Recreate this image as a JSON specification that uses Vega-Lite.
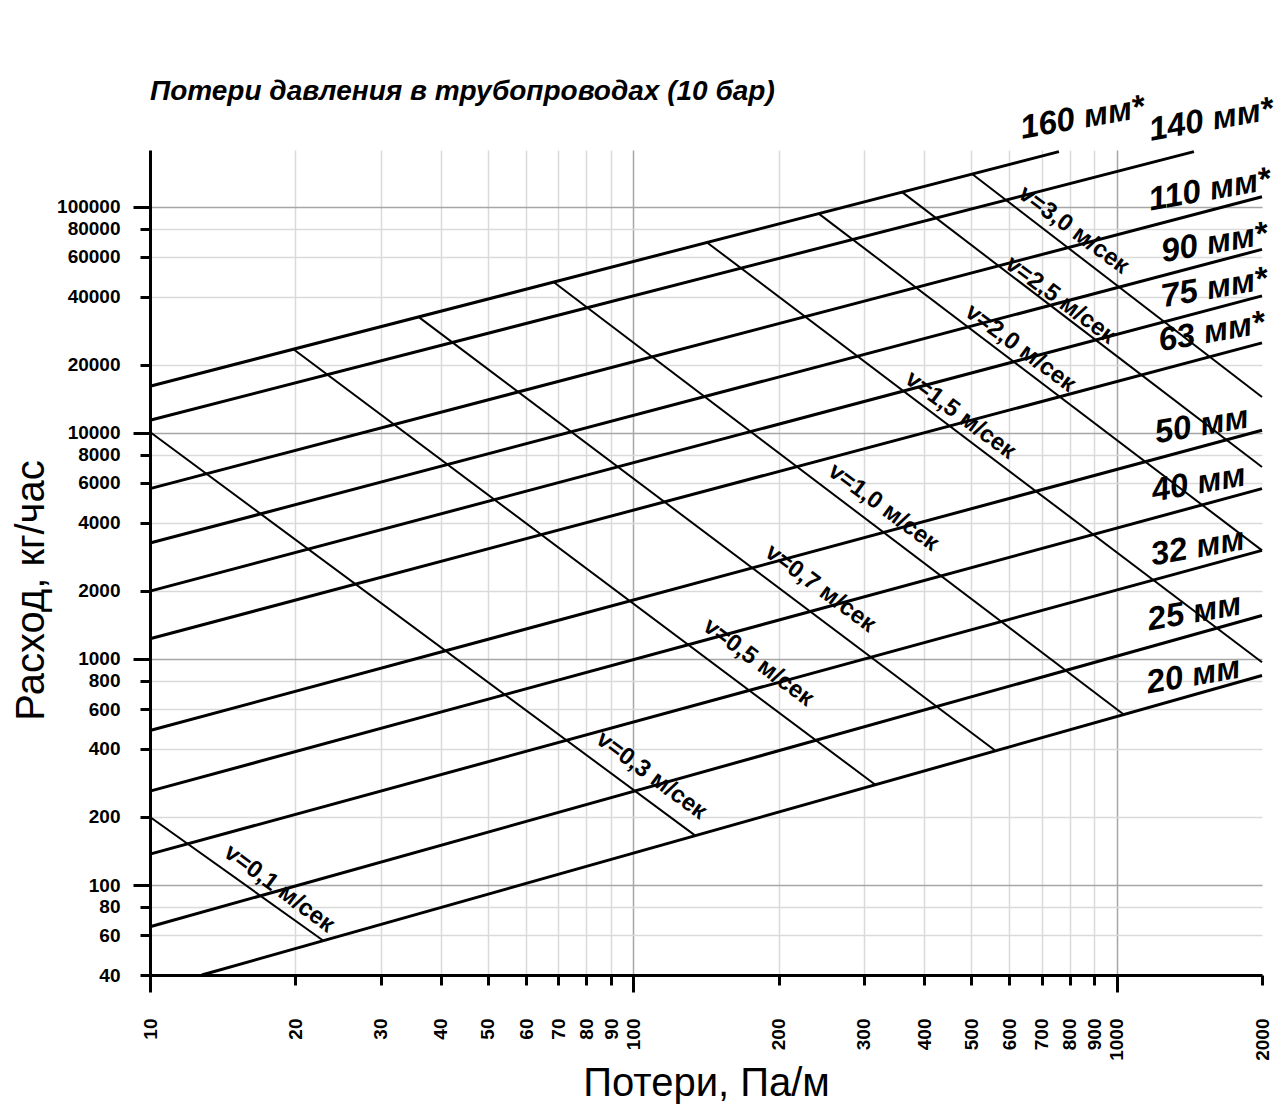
{
  "$schema": "https://vega.github.io/schema/vega-lite/v6.json",
  "width": 1112,
  "height": 825,
  "autosize": {"type": "none"},
  "padding": {"left": 150, "top": 150, "right": 15, "bottom": 129},
  "background": "white",
  "config": {"view": {"stroke": null}, "font": "Liberation Sans"},
  "title": {
    "text": "Потери давления в трубопроводах (10 бар)",
    "anchor": "start",
    "frame": "group",
    "font": "Liberation Sans",
    "fontSize": 28,
    "fontStyle": "italic",
    "fontWeight": "bold",
    "color": "black",
    "baseline": "alphabetic",
    "offset": 0,
    "dy": 37
  },
  "datasets": {
    "pipes": [
      {"pipe": "160", "loss": 10, "flow": 16060}, {"pipe": "160", "loss": 760, "flow": 175000},
      {"pipe": "140", "loss": 10, "flow": 11360}, {"pipe": "140", "loss": 1446, "flow": 175000},
      {"pipe": "110", "loss": 10, "flow": 5662}, {"pipe": "110", "loss": 2000, "flow": 110600},
      {"pipe": "90", "loss": 10, "flow": 3252}, {"pipe": "90", "loss": 2000, "flow": 64710},
      {"pipe": "75", "loss": 10, "flow": 1994}, {"pipe": "75", "loss": 2000, "flow": 40320},
      {"pipe": "63", "loss": 10, "flow": 1227}, {"pipe": "63", "loss": 2000, "flow": 24970},
      {"pipe": "50", "loss": 10, "flow": 482}, {"pipe": "50", "loss": 2000, "flow": 10260},
      {"pipe": "40", "loss": 10, "flow": 260}, {"pipe": "40", "loss": 2000, "flow": 5662},
      {"pipe": "32", "loss": 10, "flow": 137}, {"pipe": "32", "loss": 2000, "flow": 3019},
      {"pipe": "25", "loss": 10, "flow": 65.4}, {"pipe": "25", "loss": 2000, "flow": 1556},
      {"pipe": "20", "loss": 12.8, "flow": 40}, {"pipe": "20", "loss": 2000, "flow": 844}
    ],
    "velocity": [
      {"v": "0.1", "loss": 10, "flow": 200}, {"v": "0.1", "loss": 22.85, "flow": 56.7},
      {"v": "0.3", "loss": 10, "flow": 10080}, {"v": "0.3", "loss": 134.4, "flow": 165.3},
      {"v": "0.5", "loss": 19.81, "flow": 23420}, {"v": "0.5", "loss": 316.9, "flow": 277.6},
      {"v": "0.7", "loss": 35.94, "flow": 32530}, {"v": "0.7", "loss": 561.6, "flow": 392.3},
      {"v": "1.0", "loss": 68.4, "flow": 46390}, {"v": "1.0", "loss": 1035, "flow": 567.6},
      {"v": "1.5", "loss": 142.1, "flow": 69440}, {"v": "1.5", "loss": 2000, "flow": 967},
      {"v": "2.0", "loss": 241.9, "flow": 93110}, {"v": "2.0", "loss": 2000, "flow": 3019},
      {"v": "2.5", "loss": 360, "flow": 115900}, {"v": "2.5", "loss": 2000, "flow": 7055},
      {"v": "3.0", "loss": 502.5, "flow": 139400}, {"v": "3.0", "loss": 2000, "flow": 14400}
    ],
    "pipeLabels": [
      {"label": "160 мм*", "loss": 850, "flow": 246700},
      {"label": "140 мм*", "loss": 1570, "flow": 241700},
      {"label": "110 мм*", "loss": 1558, "flow": 118500},
      {"label": "90 мм*", "loss": 1595, "flow": 69030},
      {"label": "75 мм*", "loss": 1595, "flow": 43630},
      {"label": "63 мм*", "loss": 1573, "flow": 27860},
      {"label": "50 мм", "loss": 1500, "flow": 10790},
      {"label": "40 мм", "loss": 1479, "flow": 5976},
      {"label": "32 мм", "loss": 1472, "flow": 3113},
      {"label": "25 мм", "loss": 1450, "flow": 1605},
      {"label": "20 мм", "loss": 1443, "flow": 844}
    ],
    "velocityLabels": [
      {"label": "v=0,1 м/сек", "loss": 18.5, "flow": 96.3},
      {"label": "v=0,3 м/сек", "loss": 109, "flow": 304.8},
      {"label": "v=0,5 м/сек", "loss": 181.5, "flow": 964},
      {"label": "v=0,7 м/сек", "loss": 243.9, "flow": 2050},
      {"label": "v=1,0 м/сек", "loss": 329.3, "flow": 4680},
      {"label": "v=1,5 м/сек", "loss": 475.3, "flow": 11950},
      {"label": "v=2,0 м/сек", "loss": 632.6, "flow": 23660},
      {"label": "v=2,5 м/сек", "loss": 765.6, "flow": 38610},
      {"label": "v=3,0 м/сек", "loss": 814.7, "flow": 78770}
    ]
  },
  "layer": [
    {
      "data": {"name": "pipes"},
      "mark": {"type": "line", "color": "black", "strokeWidth": 3},
      "encoding": {
        "x": {
          "field": "loss", "type": "quantitative",
          "scale": {"type": "log", "domain": [10, 2000], "nice": false},
          "axis": {
            "orient": "bottom",
            "values": [10, 20, 30, 40, 50, 60, 70, 80, 90, 100, 200, 300, 400, 500, 600, 700, 800, 900, 1000, 2000],
            "format": "d",
            "labelAngle": 270,
            "labelAlign": "right",
            "labelBaseline": "middle",
            "labelFont": "Liberation Sans",
            "labelFontWeight": "bold",
            "labelFontSize": 19,
            "labelColor": "black",
            "labelPadding": 33,
            "labelOverlap": false,
            "labelFlush": false,
            "labelBound": false,
            "tickSize": 10,
            "tickWidth": 3,
            "tickColor": "black",
            "domainColor": "black",
            "domainWidth": 3,
            "grid": true,
            "gridWidth": 1.5,
            "gridColor": {"condition": {"test": "datum.value == 100 || datum.value == 1000", "value": "#a6a6a6"}, "value": "#dadada"},
            "gridOpacity": {"condition": {"test": "datum.value == 10 || datum.value == 2000", "value": 0}, "value": 1},
            "title": "Потери, Па/м",
            "titleFont": "Liberation Sans",
            "titleFontSize": 40,
            "titleFontWeight": "normal",
            "titleColor": "black",
            "titleX": 556,
            "titleY": 120,
            "titleAlign": "center",
            "titleBaseline": "alphabetic"
          }
        },
        "y": {
          "field": "flow", "type": "quantitative",
          "scale": {"type": "log", "domain": [40, 178000], "nice": false},
          "axis": {
            "orient": "left",
            "values": [40, 60, 80, 100, 200, 400, 600, 800, 1000, 2000, 4000, 6000, 8000, 10000, 20000, 40000, 60000, 80000, 100000],
            "format": "d",
            "labelFont": "Liberation Sans",
            "labelFontWeight": "bold",
            "labelFontSize": 19,
            "labelColor": "black",
            "labelPadding": 20,
            "labelOverlap": false,
            "labelFlush": false,
            "labelBound": false,
            "tickSize": 10,
            "tickWidth": 3,
            "tickColor": "black",
            "domainColor": "black",
            "domainWidth": 3,
            "grid": true,
            "gridWidth": 1.5,
            "gridColor": {"condition": {"test": "datum.value == 100 || datum.value == 1000 || datum.value == 10000 || datum.value == 100000", "value": "#a6a6a6"}, "value": "#dadada"},
            "gridOpacity": {"condition": {"test": "datum.value == 40", "value": 0}, "value": 1},
            "title": "Расход, кг/час",
            "titleFont": "Liberation Sans",
            "titleFontSize": 40,
            "titleFontWeight": "normal",
            "titleColor": "black",
            "titleAngle": 270,
            "titleX": -107,
            "titleY": 440,
            "titleAlign": "center",
            "titleBaseline": "alphabetic"
          }
        },
        "detail": {"field": "pipe"}
      }
    },
    {
      "data": {"name": "velocity"},
      "mark": {"type": "line", "color": "black", "strokeWidth": 2},
      "encoding": {
        "x": {
          "field": "loss", "type": "quantitative",
          "scale": {"type": "log", "domain": [10, 2000], "nice": false},
          "axis": {"orient": "bottom", "values": [10, 100, 1000], "labels": false, "grid": false, "domain": false, "tickSize": 17, "tickWidth": 3, "tickColor": "black", "title": null}
        },
        "y": {
          "field": "flow", "type": "quantitative",
          "scale": {"type": "log", "domain": [40, 178000], "nice": false},
          "axis": {"orient": "left", "values": [100, 1000, 10000, 100000], "labels": false, "grid": false, "domain": false, "tickSize": 17, "tickWidth": 3, "tickColor": "black", "title": null}
        },
        "detail": {"field": "v"}
      }
    },
    {
      "data": {"name": "pipeLabels"},
      "mark": {"type": "text", "font": "Liberation Sans", "fontSize": 33, "fontStyle": "italic", "fontWeight": "bold", "angle": -10, "align": "center", "baseline": "middle", "color": "black"},
      "encoding": {
        "x": {"field": "loss", "type": "quantitative", "scale": {"type": "log", "domain": [10, 2000], "nice": false}, "axis": null},
        "y": {"field": "flow", "type": "quantitative", "scale": {"type": "log", "domain": [40, 178000], "nice": false}, "axis": null},
        "text": {"field": "label"}
      }
    },
    {
      "data": {"name": "velocityLabels"},
      "mark": {"type": "text", "font": "Liberation Sans", "fontSize": 24, "fontWeight": "bold", "angle": 36.5, "align": "center", "baseline": "middle", "color": "black"},
      "encoding": {
        "x": {"field": "loss", "type": "quantitative", "scale": {"type": "log", "domain": [10, 2000], "nice": false}, "axis": null},
        "y": {"field": "flow", "type": "quantitative", "scale": {"type": "log", "domain": [40, 178000], "nice": false}, "axis": null},
        "text": {"field": "label"}
      }
    }
  ],
  "resolve": {"axis": {"x": "independent", "y": "independent"}}
}
